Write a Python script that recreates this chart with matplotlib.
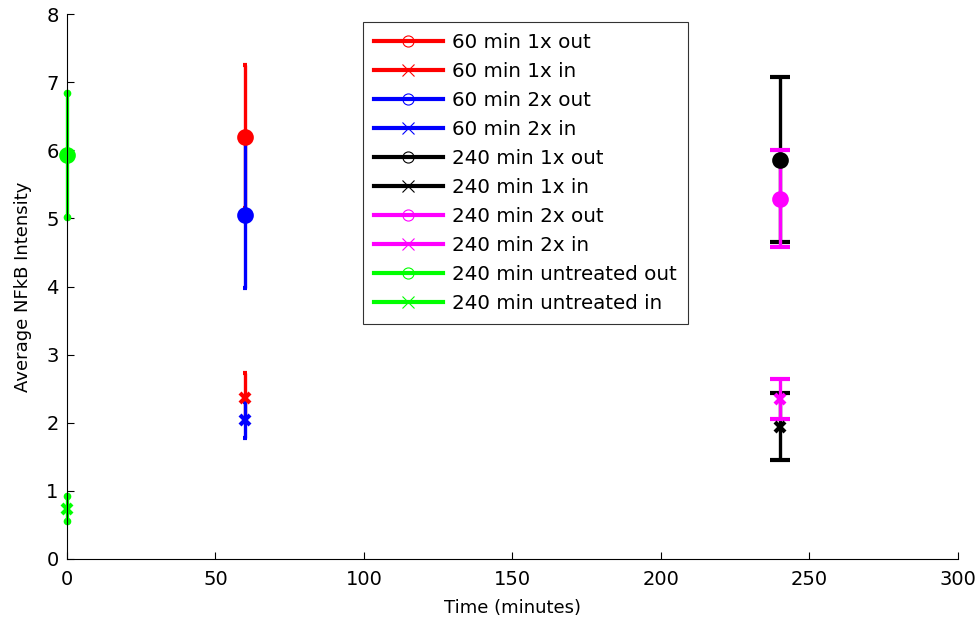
import numpy as np
import matplotlib
matplotlib.use('Agg')
import matplotlib.pyplot as plt
from matplotlib.lines import Line2D

plt.rcParams['font.family'] = ['DejaVu Sans']

# data
labels = ['60 min 1x out', '60 min 1x in', '60 min 2x out', '60 min 2x in',
          '240 min 1x out', '240 min 1x in', '240 min 2x out', '240 min 2x in',
          '240 min untreated out', '240 min untreated in']
times = [60, 60, 60, 60, 240, 240, 240, 240, 0, 0]
means = [6.20, 2.37, 5.05, 2.04, 5.86, 1.94, 5.29, 2.35, 5.93, 0.74]
errs = [1.05, 0.36, 1.07, 0.27, 1.21, 0.49, 0.71, 0.29, 0.91, 0.18]
colors = ['#ff0000', '#ff0000', '#0000ff', '#0000ff', '#000000', '#000000',
          '#ff00ff', '#ff00ff', '#00ff00', '#00ff00']
markers = ['o', 'x', 'o', 'x', 'o', 'x', 'o', 'x', 'o', 'x']

fig = plt.figure(figsize=(9.79, 6.22), dpi=100)
ax = fig.add_axes([0.0684, 0.1013, 0.910, 0.876])

for t, m, e, c, mk in zip(times, means, errs, colors, markers):
    if t == 240:
        cs = 7
    elif t == 60:
        cs = 1.5
    else:
        cs = 0
    cont = ax.errorbar([t], [m], yerr=[e], color=c, marker=mk, ms=9 if mk == 'o' else 7,
                       mew=3, lw=2.4, capsize=cs, capthick=2.4, ls='none')
    for art in cont.get_children():
        art.set_clip_on(False)
    if t == 0:
        # small round end dots like the original
        ax.plot([t, t], [m - e, m + e], 'o', color=c, ms=4.5, clip_on=False)

ax.set_xlim(0, 300)
ax.set_ylim(0, 8)
ax.set_xticks(np.arange(0, 301, 50))
ax.set_yticks(np.arange(0, 9, 1))
ax.tick_params(direction='in', length=5, labelsize=14, width=0.8)
ax.tick_params(axis='x', pad=8)
ax.tick_params(axis='y', pad=6)
ax.spines['top'].set_visible(False)
ax.spines['right'].set_visible(False)
ax.set_xlabel('Time (minutes)', fontsize=13, labelpad=7)
ax.set_ylabel('Average NFkB Intensity', fontsize=13, labelpad=10)

handles = [Line2D([], [], color=c, lw=3, marker=mk, ms=8, mfc='none', mew=0.8)
           for c, mk in zip(colors, markers)]
leg = ax.legend(handles, labels, loc='upper left', bbox_to_anchor=(0.332, 0.985),
                fontsize=14.3, handlelength=3.5, labelspacing=0.5, borderpad=0.55,
                handletextpad=0.45, borderaxespad=0, frameon=True, fancybox=False,
                edgecolor='black')
leg.get_frame().set_linewidth(0.8)

fig.savefig('out.png', dpi=100)
